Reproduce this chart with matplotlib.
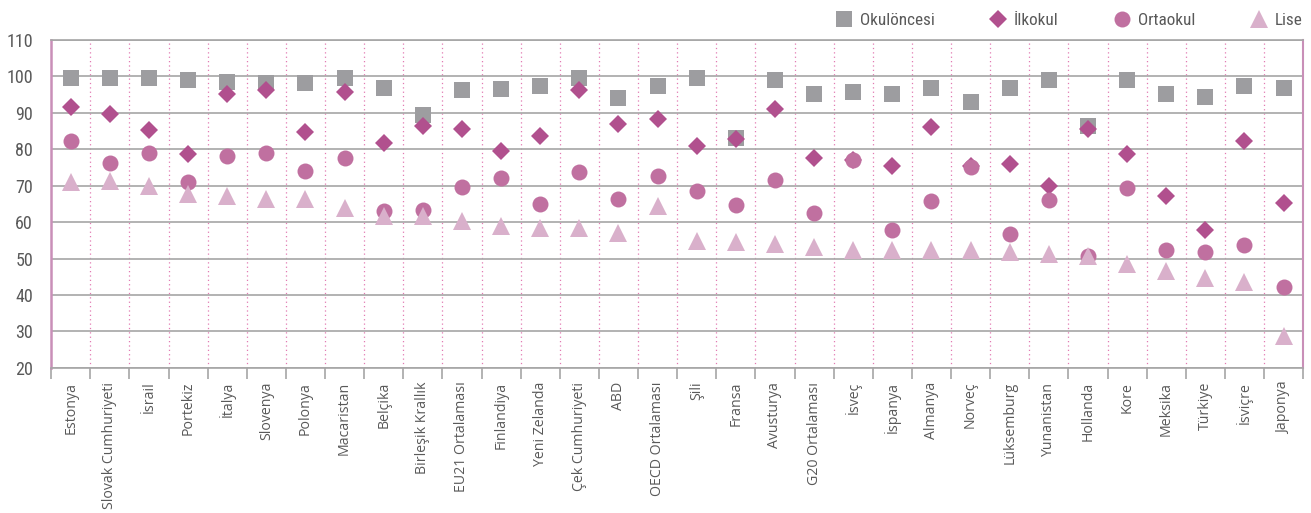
import matplotlib
matplotlib.use("Agg")
import matplotlib.pyplot as plt
from matplotlib import font_manager
import numpy as np

# --- Data ---
countries = [
    "Estonya", "Slovak Cumhuriyeti", "İsrail", "Portekiz", "İtalya", "Slovenya",
    "Polonya", "Macaristan", "Belçika", "Birleşik Krallık", "EU21 Ortalaması",
    "Finlandiya", "Yeni Zelanda", "Çek Cumhuriyeti", "ABD", "OECD Ortalaması",
    "Şili", "Fransa", "Avusturya", "G20 Ortalaması", "İsveç", "İspanya",
    "Almanya", "Norveç", "Lüksemburg", "Yunanistan", "Hollanda", "Kore",
    "Meksika", "Türkiye", "İsviçre", "Japonya",
]
okuloncesi = [99.6, 99.6, 99.7, 99.0, 98.5, 98.1, 98.3, 99.7, 96.9, 89.4, 96.2,
              96.6, 97.4, 99.5, 94.0, 97.4, 99.7, 83.2, 98.9, 95.1, 95.7, 95.1,
              96.9, 93.0, 96.9, 98.9, 86.4, 98.9, 95.3, 94.4, 97.4, 96.9]
ilkokul = [91.5, 89.6, 85.3, 78.7, 95.2, 96.4, 84.8, 95.6, 81.6, 86.4, 85.6,
           79.4, 83.6, 96.4, 86.9, 88.2, 81.0, 82.7, 91.0, 77.6, 77.0, 75.5,
           86.0, 75.4, 75.9, 69.9, 85.7, 78.6, 67.2, 57.8, 82.4, 65.3]
ortaokul = [82.4, 76.3, 79.0, 70.9, 78.1, 79.0, 74.0, 77.7, 63.0, 63.2, 69.7,
            72.2, 65.1, 73.8, 66.3, 72.6, 68.6, 64.7, 71.5, 62.6, 77.1, 57.9,
            65.8, 75.2, 56.7, 66.2, 50.7, 69.4, 52.3, 51.8, 53.8, 42.2]
lise = [71.1, 71.2, 69.9, 67.6, 67.1, 66.3, 66.3, 63.9, 61.6, 61.6, 60.2,
        59.0, 58.4, 58.3, 57.0, 64.4, 54.8, 54.5, 54.1, 53.2, 52.4, 52.4,
        52.3, 52.3, 51.8, 51.3, 50.8, 48.6, 46.6, 44.6, 43.5, 28.7]

series = [
    ("Okulöncesi", okuloncesi, "s", 11, "#9d9da0"),
    ("İlkokul", ilkokul, "D", 9, "#b1508e"),
    ("Ortaokul", ortaokul, "o", 11.5, "#c070a0"),
    ("Lise", lise, "^", 12.5, "#d9b0cb"),
]

# pick a narrow font if one is around
installed = {f.name for f in font_manager.fontManager.ttflist}
narrow = next((f for f in ["Liberation Sans Narrow", "Roboto Condensed",
                           "Open Sans Condensed", "Roboto"] if f in installed), "DejaVu Sans")

text_gray = "#595959"
grid_gray = "#a6a6a6"
pink_line = "#c98fb8"

fig = plt.figure(figsize=(13.11, 5.13), dpi=100)
ax = fig.add_axes([0.039, 0.283, 0.955, 0.639])

x = np.arange(len(countries))
for name, vals, marker, ms, color in series:
    ax.plot(x, vals, linestyle="none", marker=marker, markersize=ms,
            color=color, markeredgewidth=0, label=name, zorder=3)

ax.set_xlim(-0.5, len(countries) - 0.5)
ax.set_ylim(20, 110)
ax.set_yticks(range(20, 111, 10))
ax.yaxis.grid(True, color=grid_gray, linewidth=1.2, zorder=0)

# dotted pink separators between categories
for b in np.arange(0.5, len(countries) - 0.5, 1):
    ax.axvline(b, color="#e27ab2", linestyle=(0, (1, 2.5)), linewidth=0.9, zorder=1)

# category ticks below the bottom line
ax.set_xticks(np.arange(-0.5, len(countries), 1), minor=True)
ax.set_xticks(x)
ax.set_xticklabels(countries, rotation=90, fontsize=10.2, color=text_gray,
                   family=["Open Sans", "DejaVu Sans"])
ax.tick_params(axis="x", which="major", length=0, pad=10)
ax.tick_params(axis="x", which="minor", length=8, color=grid_gray, width=1.2)
ax.tick_params(axis="y", length=0, pad=13, labelsize=13, labelcolor=text_gray)
for lbl in ax.get_yticklabels():
    lbl.set_family([narrow, "DejaVu Sans"])

ax.spines["left"].set_color(pink_line)
ax.spines["left"].set_linewidth(1.8)
ax.spines["right"].set_color(pink_line)
ax.spines["right"].set_linewidth(1.5)
ax.spines["top"].set_color(grid_gray)
ax.spines["top"].set_linewidth(1.2)
ax.spines["bottom"].set_color(grid_gray)
ax.spines["bottom"].set_linewidth(1.2)

leg = ax.legend(loc="lower right", bbox_to_anchor=(1.008, 1.005), ncol=4,
                frameon=False, columnspacing=3.1, handletextpad=0.35,
                handlelength=1.2, borderaxespad=0.2,
                prop={"family": [narrow, "DejaVu Sans"], "size": 12.3})
for t in leg.get_texts():
    t.set_color(text_gray)

fig.savefig("out.png", dpi=100)
